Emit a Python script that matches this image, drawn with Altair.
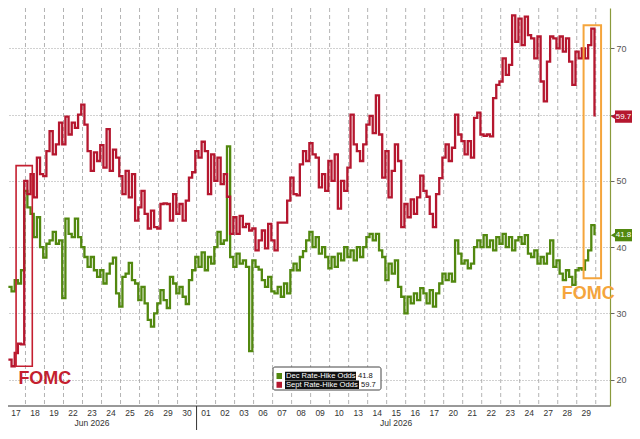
import altair as alt
import pandas as pd

# ---------------- data ----------------
day_labels = ["17", "18", "19", "22", "23", "24", "25", "26", "29", "30",
              "01", "02", "03", "06", "07", "08", "09", "10", "13", "14",
              "15", "16", "17", "20", "21", "22", "23", "24", "27", "28", "29"]
month_labels = ["Jun 2026", "Jul 2026"]
month_label_day = [4, 20]          # day index under which each month label sits
series_names = ["Dec Rate-Hike Odds", "Sept Rate-Hike Odds"]
series_colors = ["#52880f", "#b5172f"]
y_ticks = [20, 30, 40, 50, 60, 70]

# intraday readings, 6 samples per trading day starting Jun 17
sept_odds = [
    23, 22, 24, 25.4, 25.3, 50, 48, 51, 47.5, 53.5,
    51, 50.7, 54.5, 57.5, 54, 55.5, 58.8, 55.5, 59.7, 57,
    58.8, 58, 60, 61.5, 58.5, 54.5, 51.5, 54.3, 53, 55.4,
    52, 57.8, 51.5, 54.7, 53.5, 50.7, 48, 51.5, 47.5, 51,
    44, 46, 48.5, 45, 42.8, 45.5, 43, 42.8, 46.5, 46.6,
    46.5, 44, 48, 45, 46.5, 44, 47, 50.5, 51.3, 54.5,
    53.5, 55.9, 54.5, 48, 54, 50, 53.5, 49.5, 51, 47.6,
    42, 44.5, 42, 44.7, 43, 43.5, 42.5, 42.8, 39.5, 41,
    42.5, 39.8, 43.5, 41, 39.5, 43.7, 43.7, 43.7, 47, 50.5,
    48, 47.8, 52.5, 54.5, 53, 55.7, 54, 53.5, 49, 51,
    48.5, 53, 50, 54, 45.8, 50, 48.5, 52, 60, 55.5,
    54.5, 53, 55.5, 58.5, 59.8, 57.2, 62.9, 57, 50.5, 54.5,
    47.5, 51.5, 55.5, 53, 43, 46.5, 44.5, 47.2, 45, 47.5,
    50.8, 48.5, 47.6, 45, 43, 48, 50.4, 53.5, 55.5, 53,
    55, 60, 57, 56, 54, 56, 53.5, 59.5, 60.3, 57,
    56.8, 57, 56.7, 62.5, 64.5, 65, 68.5, 66, 67.5, 75,
    71, 74.5, 70.5, 74.8, 72, 71.5, 68.5, 71.8, 65, 62,
    68, 71.8, 71.5, 70, 71.8, 69.5, 71.5, 68, 64.5, 69.5,
    68.5, 70, 68.5, 70.5, 73, 59.7,
]
dec_odds = [
    34, 33.3, 35, 34.5, 36.5, 48.5, 46, 45, 41.5, 44.5,
    40, 38.4, 40.5, 41, 42.3, 40.5, 41, 32.3, 44.3, 42,
    41.5, 44.3, 41.5, 40, 38.5, 37, 38.5, 36.5, 35.5, 36.5,
    34.5, 36, 37.5, 38.4, 33, 31, 35.5, 36, 37.6, 35,
    34.5, 32, 34, 31.5, 29, 28, 30, 31.5, 33.5, 32,
    30.8, 35.5, 34.5, 33, 34, 32.5, 31.4, 35, 36.5, 38.5,
    37, 39.2, 36.5, 38.5, 37.5, 40, 42.3, 40.5, 41, 55.2,
    38.5, 37, 39, 37.5, 38, 37, 24.3, 38, 37, 36.6,
    35, 34, 35.5, 33.3, 33, 34, 32.5, 34.5, 33, 36.5,
    37.5, 36.5, 38.5, 39.4, 41, 42.3, 40, 41.5, 39, 40,
    38.5, 36.8, 38.5, 37, 39, 38, 40, 38.5, 39.5, 38,
    40, 38.5, 40, 41.5, 42, 41, 42, 39.5, 38.5, 35,
    37.5, 36, 38, 34, 32.5, 30, 32.5, 31.5, 33, 32,
    33.8, 33, 31.5, 33.5, 31, 33, 34.5, 36, 35, 36,
    34.8, 41, 39, 37.5, 38, 36.8, 37.5, 40, 41, 40,
    41.8, 40, 41, 39.5, 41.5, 40.5, 42, 40, 41.5, 39.5,
    41, 41.5, 40.5, 41.8, 39, 38.5, 39.5, 37.5, 38.5, 37.5,
    39, 41, 37, 38, 36, 35, 36.5, 35.5, 34.3, 36.5,
    36.8, 36.6, 38, 39.5, 43.3, 41.8,
]

# ---------------- layout ----------------
W, H = 602, 398
FONT = "Liberation Sans"
SAMPLES_PER_DAY = 6
FIRST_SAMPLE = 0.1

rows = []
for name, vals in zip(series_names, [dec_odds, sept_odds]):
    for i, v in enumerate(vals):
        rows.append({"t": FIRST_SAMPLE + i / SAMPLES_PER_DAY, "v": v, "series": name})
lines_df = pd.DataFrame(rows)

days_df = pd.DataFrame({"t": [i + 0.5 for i in range(len(day_labels))], "label": day_labels})
bounds_df = pd.DataFrame({"t": list(range(1, len(day_labels) + 1))})
months_df = pd.DataFrame({"t": [d + 0.5 for d in month_label_day], "label": month_labels})
month_break = day_labels.index("01")
tag_df = pd.DataFrame({"series": series_names, "v": [dec_odds[-1], sept_odds[-1]]})
one = alt.Data(values=[{}])

xs = alt.Scale(domain=[0.08, 31.75], nice=False, zero=False)
ys = alt.Scale(domain=[16, 76.1], nice=False, zero=False)
yaxis = alt.Axis(
    orient="right", values=y_ticks, grid=True, gridDash=[1, 2], gridColor="#8c8c8c",
    gridWidth=0.8, domainColor="#8a9a3c", domainWidth=1.2, tickColor="#666", tickSize=4,
    labelColor="#555", labelFontSize=9, labelFont=FONT, labelPadding=2, title=None,
    labelExpr="datum.value == 60 ? '' : datum.label")
color = alt.Color("series:N", scale=alt.Scale(domain=series_names, range=series_colors), legend=None)


def X(field=None, **kw):
    if field is None:
        return alt.X(scale=xs, axis=None, **kw)
    return alt.X(field, scale=xs, axis=None, **kw)


def Y(field=None, **kw):
    if field is None:
        return alt.Y(scale=ys, axis=yaxis, **kw)
    return alt.Y(field, scale=ys, axis=yaxis, **kw)


vgrid = alt.Chart(bounds_df).mark_rule(color="#a0a0a0", strokeDash=[4, 3], strokeWidth=0.8).encode(
    x=X("t:Q"), y=alt.value(0), y2=alt.value(H))

lines = alt.Chart(lines_df).mark_line(interpolate="step-after", strokeWidth=2.3).encode(
    x=X("t:Q"), y=Y("v:Q"), color=color, order=alt.Order("t:Q"))

baseline = alt.Chart(one).mark_rule(color="#333", strokeWidth=1).encode(
    x=alt.value(0), x2=alt.value(W), y=alt.value(H))
day_text = alt.Chart(days_df).mark_text(fontSize=8.5, font=FONT, color="#333").encode(
    x=X("t:Q"), y=alt.value(H + 7), text="label:N")
month_text = alt.Chart(months_df).mark_text(fontSize=8.5, font=FONT, color="#333").encode(
    x=X("t:Q"), y=alt.value(H + 17), text="label:N")
sep = alt.Chart(one).mark_rule(color="#333", strokeWidth=1).encode(
    x=X(datum=month_break), y=alt.value(H), y2=alt.value(H + 24))

# FOMC annotations
red_box = alt.Chart(one).mark_rect(filled=False, stroke="#c41f30", strokeWidth=1.6).encode(
    x=X(datum=0.505), x2=alt.X2(datum=1.358), y=Y(datum=52.3), y2=alt.Y2(datum=22))
red_txt = alt.Chart(one).mark_text(text="FOMC", fontSize=18, fontWeight="bold", font=FONT,
                                   color="#c41f30").encode(x=X(datum=2.02), y=Y(datum=20.1))
org_box = alt.Chart(one).mark_rect(filled=False, stroke="#f5a53c", strokeWidth=2).encode(
    x=X(datum=30.36), x2=alt.X2(datum=31.28), y=Y(datum=73.5), y2=alt.Y2(datum=35.3))
org_txt = alt.Chart(one).mark_text(text="FOMC", fontSize=18, fontWeight="bold", font=FONT,
                                   color="#f5a53c").encode(x=X(datum=30.6), y=Y(datum=32.9))

# last-value tags on the right axis
tag_rect = alt.Chart(tag_df).transform_calculate(
    top="datum.v + 0.93", bot="datum.v - 0.93").mark_rect().encode(
    x=alt.value(W + 5), x2=alt.value(W + 22), y=Y("top:Q"), y2="bot:Q", color=color)
tag_ptr = alt.Chart(tag_df).mark_point(shape="triangle-left", filled=True, size=40, opacity=1).encode(
    x=alt.value(W + 3.5), y=Y("v:Q"), color=color)
tag_txt = alt.Chart(tag_df).mark_text(color="white", fontSize=8, font=FONT).encode(
    x=alt.value(W + 13.5), y=Y("v:Q"), text=alt.Text("v:Q", format=".1f"))

# legend box
legend_layers = [
    alt.Chart(one).mark_rect(fill="white", stroke="#444", strokeWidth=1, cornerRadius=2).encode(
        x=alt.value(265), x2=alt.value(373), y=alt.value(359), y2=alt.value(382)),
]
row_y = [368, 376.8]
bg_right = [348, 351]
val_x = [350, 353]
for i, name in enumerate(series_names):
    last = [dec_odds[-1], sept_odds[-1]][i]
    legend_layers += [
        alt.Chart(one).mark_rect(color=series_colors[i]).encode(
            x=alt.value(268.5), x2=alt.value(274), y=alt.value(row_y[i] - 3), y2=alt.value(row_y[i] + 3)),
        alt.Chart(one).mark_rect(color="#111").encode(
            x=alt.value(277), x2=alt.value(bg_right[i]), y=alt.value(row_y[i] - 4.2), y2=alt.value(row_y[i] + 4.2)),
        alt.Chart(one).mark_text(text=name, align="left", color="white", fontSize=7.6, font=FONT).encode(
            x=alt.value(278), y=alt.value(row_y[i])),
        alt.Chart(one).mark_text(text=f"{last:.1f}", align="left", color="#111", fontSize=7.6, font=FONT).encode(
            x=alt.value(val_x[i]), y=alt.value(row_y[i])),
    ]

chart = alt.layer(
    vgrid, lines, baseline, day_text, month_text, sep,
    red_box, red_txt, org_box, org_txt,
    tag_rect, tag_ptr, tag_txt, *legend_layers,
).properties(
    width=W, height=H,
    autosize=alt.AutoSizeParams(type="none"),
    padding={"left": 0, "top": 0, "right": 22, "bottom": 24},
    background="white",
).configure_view(stroke=None)

chart.save("out.html", embed_options={"renderer": "svg", "actions": False})
